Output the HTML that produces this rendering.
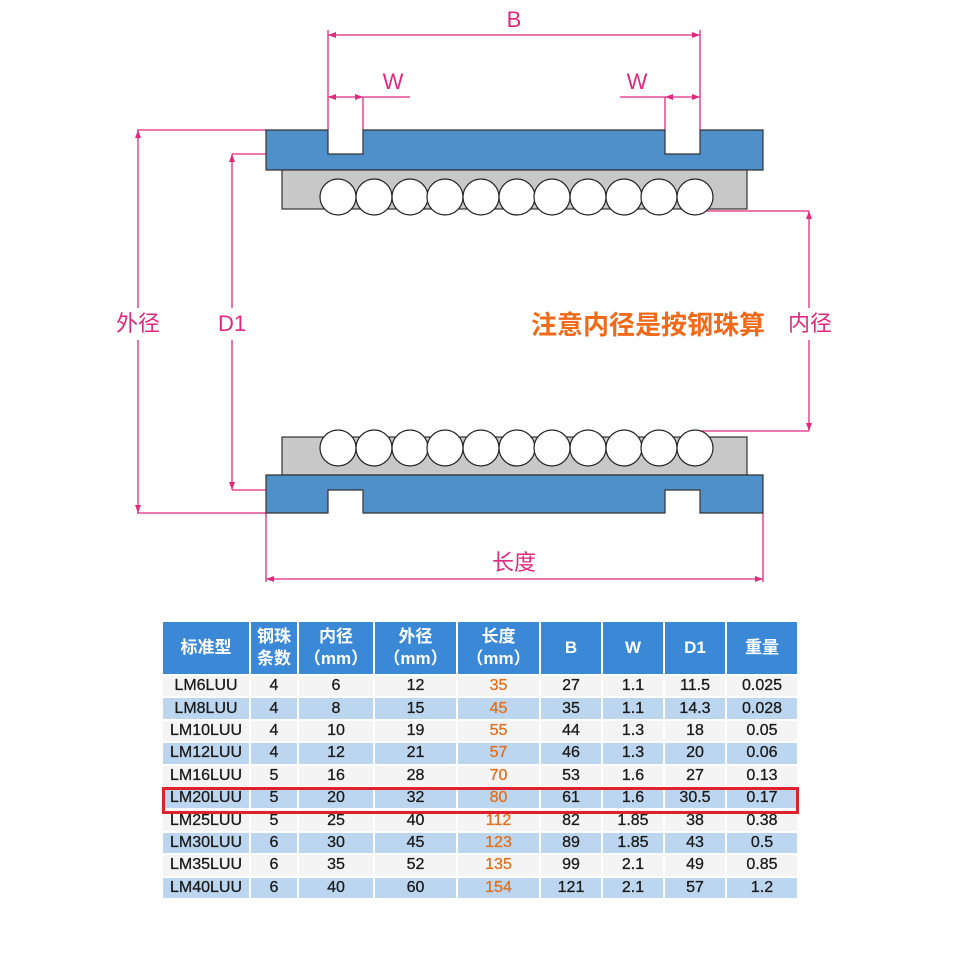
<!DOCTYPE html>
<html><head><meta charset="utf-8"><style>
html,body{margin:0;padding:0;background:#fff;}
body{width:954px;height:954px;position:relative;overflow:hidden;font-family:"Liberation Sans","Noto Sans CJK SC",sans-serif;}
svg{position:absolute;left:0;top:0;}
table{position:absolute;left:163px;top:622px;border-collapse:collapse;width:635px;table-layout:fixed;font-family:"Liberation Sans","Noto Sans CJK SC",sans-serif;}
td,th{padding:0;text-align:center;border-right:2px solid #fff;border-bottom:2px solid #fff;}
th{background:#3a88d6;color:#fff;font-size:17px;font-weight:bold;height:52px;line-height:22px;}
td{height:20.4px;font-size:16px;color:#1a1a1a;line-height:20px;font-weight:500;-webkit-text-stroke:0.3px #1a1a1a;}
tr.w td{background:#f4f4f4;}
tr.b td{background:#bdd6ef;}
td.o{color:#e0701e;-webkit-text-stroke:0.3px #e0701e;}
</style></head><body>
<svg width="954" height="954" viewBox="0 0 954 954">
<g stroke="#e0287f" stroke-width="1.3" fill="none">
<line x1="328" y1="30" x2="328" y2="130"/><line x1="700" y1="30" x2="700" y2="130"/>
<line x1="328" y1="35" x2="700" y2="35"/>
<line x1="363" y1="97" x2="363" y2="130"/><line x1="328" y1="97" x2="410" y2="97"/>
<line x1="665" y1="97" x2="665" y2="130"/><line x1="620" y1="97" x2="700" y2="97"/>
<line x1="137" y1="130" x2="266" y2="130"/><line x1="137" y1="513" x2="266" y2="513"/>
<line x1="138" y1="130" x2="138" y2="308"/><line x1="138" y1="340" x2="138" y2="513"/>
<line x1="232" y1="154" x2="328" y2="154"/><line x1="232" y1="490" x2="328" y2="490"/>
<line x1="232" y1="154" x2="232" y2="308"/><line x1="232" y1="340" x2="232" y2="490"/>
<line x1="700" y1="211" x2="809" y2="211"/><line x1="700" y1="431" x2="809" y2="431"/>
<line x1="809" y1="211" x2="809" y2="308"/><line x1="809" y1="340" x2="809" y2="431"/>
<line x1="266" y1="513" x2="266" y2="582"/><line x1="763" y1="513" x2="763" y2="582"/>
<line x1="266" y1="579" x2="763" y2="579"/>
</g>
<g fill="#e0287f">
<path d="M328 35l8-3v6z"/><path d="M700 35l-8-3v6z"/>
<path d="M328 97l8-3v6z"/><path d="M363 97l-8-3v6z"/>
<path d="M665 97l8-3v6z"/><path d="M700 97l-8-3v6z"/>
<path d="M138 130l-3 8h6z"/><path d="M138 513l-3-8h6z"/>
<path d="M232 154l-3 8h6z"/><path d="M232 490l-3-8h6z"/>
<path d="M809 211l-3 8h6z"/><path d="M809 431l-3-8h6z"/>
<path d="M266 579l8-3v6z"/><path d="M763 579l-8-3v6z"/>
</g>
<g stroke="#333" stroke-width="1.2">
<path d="M266 130H328V154H363V130H665V154H700V130H763V170H266Z" fill="#4f8fca"/>
<rect x="282" y="170" width="465" height="39" fill="#c8c8c8"/>
<rect x="282" y="437" width="465" height="38" fill="#c8c8c8"/>
<path d="M266 475H763V513H700V490H665V513H363V490H328V513H266Z" fill="#4f8fca"/>
</g>
<g stroke="#222" stroke-width="1.2" fill="#fff">
<circle cx="338" cy="197" r="18"/><circle cx="374" cy="197" r="18"/><circle cx="410" cy="197" r="18"/><circle cx="445" cy="197" r="18"/><circle cx="481" cy="197" r="18"/><circle cx="517" cy="197" r="18"/><circle cx="552" cy="197" r="18"/><circle cx="588" cy="197" r="18"/><circle cx="624" cy="197" r="18"/><circle cx="659" cy="197" r="18"/><circle cx="695" cy="197" r="18"/>
<circle cx="338" cy="448" r="18"/><circle cx="374" cy="448" r="18"/><circle cx="410" cy="448" r="18"/><circle cx="445" cy="448" r="18"/><circle cx="481" cy="448" r="18"/><circle cx="517" cy="448" r="18"/><circle cx="552" cy="448" r="18"/><circle cx="588" cy="448" r="18"/><circle cx="624" cy="448" r="18"/><circle cx="659" cy="448" r="18"/><circle cx="695" cy="448" r="18"/>
</g>
<g fill="#e0287f" font-family="Liberation Sans,Noto Sans CJK SC,sans-serif" font-size="22" text-anchor="middle">
<text x="514" y="27">B</text>
<text x="393" y="89">W</text>
<text x="637" y="89">W</text>
<text x="138" y="331">外径</text>
<text x="232" y="331">D1</text>
<text x="810" y="331">内径</text>
<text x="514" y="570">长度</text>
</g>
<text x="648" y="334" fill="#f06a1a" font-size="26" font-weight="bold" text-anchor="middle" font-family="Liberation Sans,Noto Sans CJK SC,sans-serif">注意内径是按钢珠算</text>
</svg>
<table>
<colgroup><col style="width:87px"><col style="width:48px"><col style="width:76px"><col style="width:83px"><col style="width:83px"><col style="width:62px"><col style="width:62px"><col style="width:62px"><col style="width:72px"></colgroup>
<tr><th>标准型</th><th>钢珠<br>条数</th><th>内径<br>（mm）</th><th>外径<br>（mm）</th><th>长度<br>（mm）</th><th>B</th><th>W</th><th>D1</th><th>重量</th></tr>
<tr class="w"><td>LM6LUU</td><td>4</td><td>6</td><td>12</td><td class="o">35</td><td>27</td><td>1.1</td><td>11.5</td><td>0.025</td></tr>
<tr class="b"><td>LM8LUU</td><td>4</td><td>8</td><td>15</td><td class="o">45</td><td>35</td><td>1.1</td><td>14.3</td><td>0.028</td></tr>
<tr class="w"><td>LM10LUU</td><td>4</td><td>10</td><td>19</td><td class="o">55</td><td>44</td><td>1.3</td><td>18</td><td>0.05</td></tr>
<tr class="b"><td>LM12LUU</td><td>4</td><td>12</td><td>21</td><td class="o">57</td><td>46</td><td>1.3</td><td>20</td><td>0.06</td></tr>
<tr class="w"><td>LM16LUU</td><td>5</td><td>16</td><td>28</td><td class="o">70</td><td>53</td><td>1.6</td><td>27</td><td>0.13</td></tr>
<tr class="b"><td>LM20LUU</td><td>5</td><td>20</td><td>32</td><td class="o">80</td><td>61</td><td>1.6</td><td>30.5</td><td>0.17</td></tr>
<tr class="w"><td>LM25LUU</td><td>5</td><td>25</td><td>40</td><td class="o">112</td><td>82</td><td>1.85</td><td>38</td><td>0.38</td></tr>
<tr class="b"><td>LM30LUU</td><td>6</td><td>30</td><td>45</td><td class="o">123</td><td>89</td><td>1.85</td><td>43</td><td>0.5</td></tr>
<tr class="w"><td>LM35LUU</td><td>6</td><td>35</td><td>52</td><td class="o">135</td><td>99</td><td>2.1</td><td>49</td><td>0.85</td></tr>
<tr class="b"><td>LM40LUU</td><td>6</td><td>40</td><td>60</td><td class="o">154</td><td>121</td><td>2.1</td><td>57</td><td>1.2</td></tr>
</table>
<div style="position:absolute;left:162px;top:787px;width:631px;height:21px;border:3px solid #e0202a;"></div>
</body></html>
